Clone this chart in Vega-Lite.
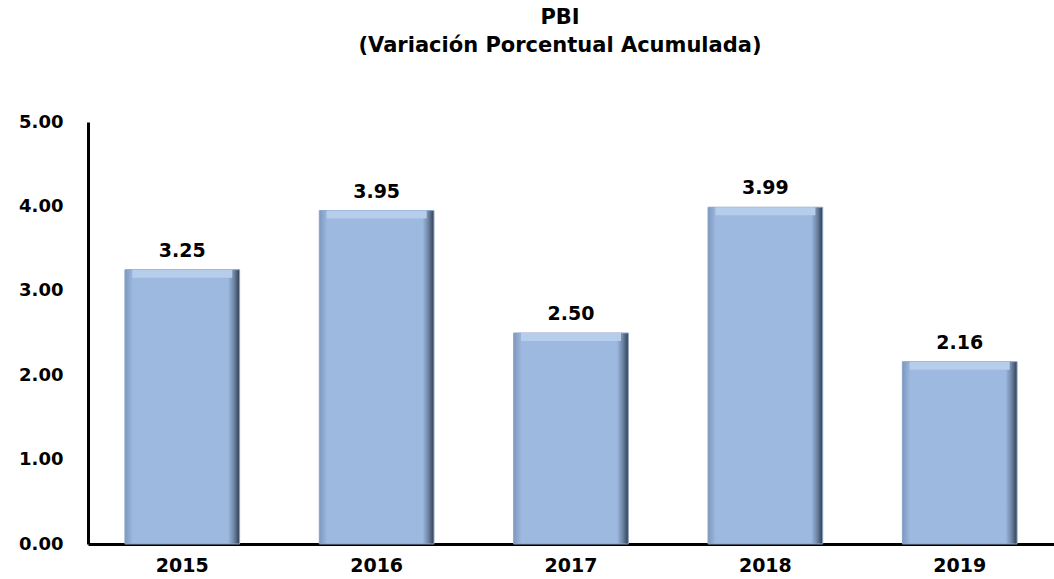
{
  "$schema": "https://vega.github.io/schema/vega-lite/v6.json",
  "autosize": {"type": "none"},
  "padding": {"left": 88, "top": 122, "right": 0, "bottom": 35},
  "width": 966,
  "height": 422,
  "background": "white",
  "title": {
    "text": ["PBI", "(Variación Porcentual Acumulada)"],
    "font": "DejaVu Sans",
    "fontWeight": "bold",
    "fontSize": 21,
    "lineHeight": 28,
    "color": "#000000",
    "anchor": "middle",
    "frame": "group",
    "dx": -11,
    "offset": 57
  },
  "data": {
    "values": [
      {"year": "2015", "value": 3.25},
      {"year": "2016", "value": 3.95},
      {"year": "2017", "value": 2.50},
      {"year": "2018", "value": 3.99},
      {"year": "2019", "value": 2.16}
    ]
  },
  "encoding": {
    "x": {
      "field": "year",
      "type": "ordinal",
      "scale": {"paddingInner": 0.41, "paddingOuter": 0.19},
      "axis": {
        "title": null,
        "labelAngle": 0,
        "labelFont": "DejaVu Sans",
        "labelFontWeight": "bold",
        "labelFontSize": 19,
        "labelColor": "#000000",
        "labelPadding": 12,
        "ticks": false,
        "domainColor": "#000000",
        "domainWidth": 3,
        "grid": false
      }
    },
    "y": {
      "field": "value",
      "type": "quantitative",
      "scale": {"domain": [0, 5], "nice": false},
      "axis": {
        "title": null,
        "values": [0, 1, 2, 3, 4, 5],
        "format": ".2f",
        "labelFont": "DejaVu Sans",
        "labelFontWeight": "bold",
        "labelFontSize": 18,
        "labelColor": "#000000",
        "labelPadding": 25,
        "ticks": false,
        "grid": false,
        "domainColor": "#000000",
        "domainWidth": 3
      }
    }
  },
  "layer": [
    {
      "mark": {
        "type": "bar",
        "color": {
          "gradient": "linear",
          "x1": 0, "x2": 1, "y1": 0, "y2": 0,
          "stops": [
            {"offset": 0, "color": "#7D98BE"},
            {"offset": 0.07, "color": "#9DB9E0"},
            {"offset": 0.9, "color": "#9DB9E0"},
            {"offset": 0.95, "color": "#6F86A6"},
            {"offset": 1, "color": "#2F3E52"}
          ]
        },
        "stroke": "#8AA3C6",
        "strokeWidth": 1
      }
    },
    {
      "mark": {
        "type": "tick",
        "color": "#B6CDEC",
        "thickness": 8,
        "size": 100,
        "yOffset": 4,
        "opacity": 1
      }
    },
    {
      "mark": {
        "type": "text",
        "font": "DejaVu Sans",
        "fontWeight": "bold",
        "fontSize": 19,
        "color": "#000000",
        "baseline": "alphabetic",
        "dy": -13
      },
      "encoding": {
        "text": {"field": "value", "type": "quantitative", "format": ".2f"}
      }
    }
  ],
  "config": {"view": {"stroke": null}}
}
